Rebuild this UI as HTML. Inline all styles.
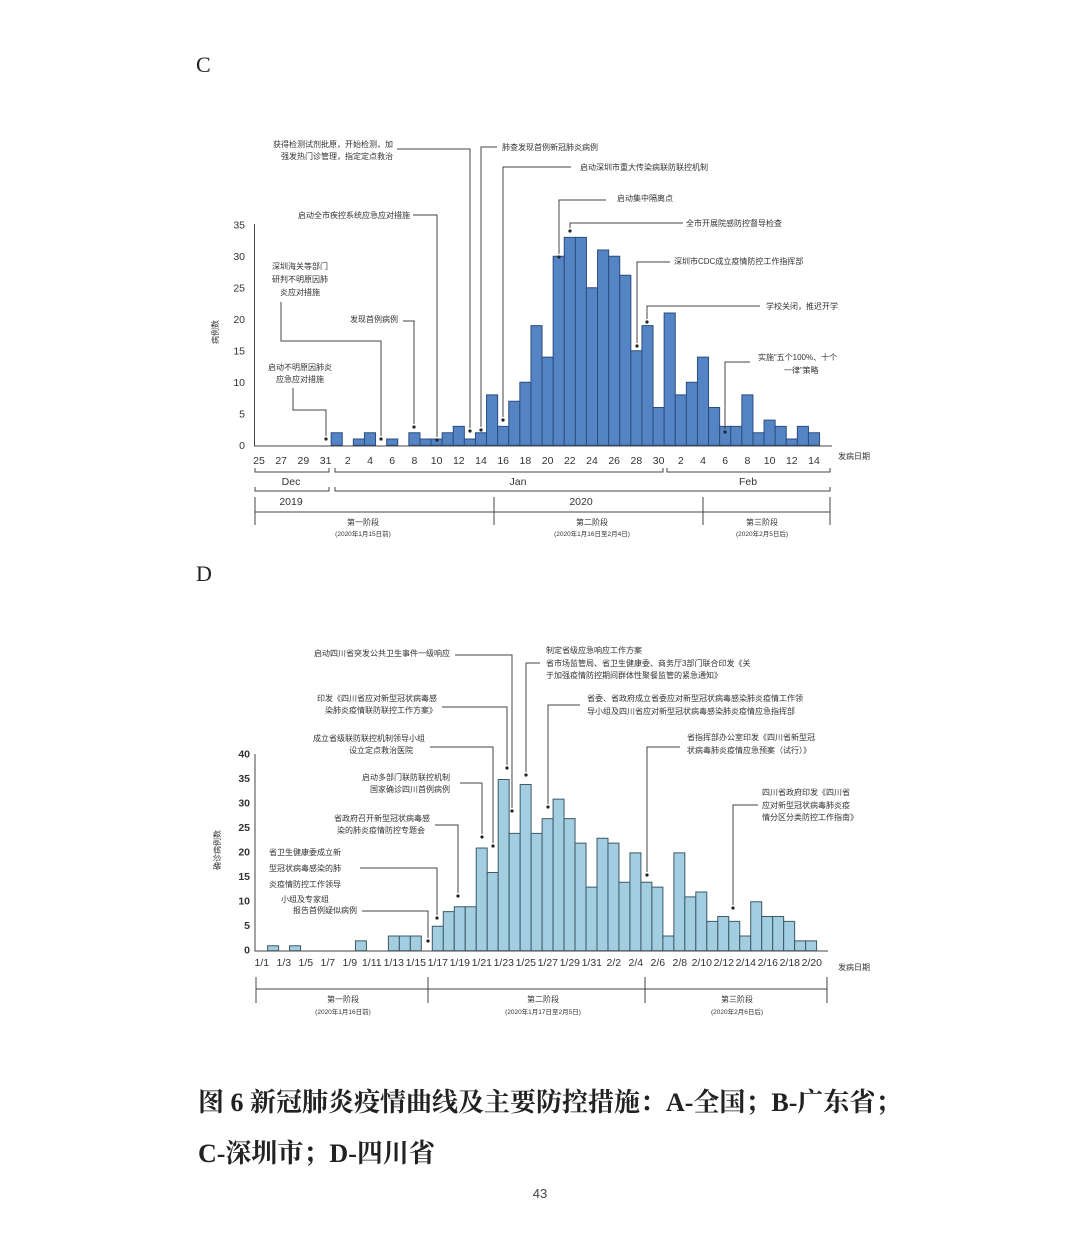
<!DOCTYPE html>
<html><head><meta charset="utf-8"><style>
html,body{margin:0;padding:0;background:#fff;}
svg{display:block;}
.a{font-family:"Liberation Sans","Noto Sans CJK SC",sans-serif;font-size:8px;fill:#333;}
.t{font-family:"Liberation Sans",sans-serif;font-size:10.5px;fill:#333;}
.ln{fill:none;stroke:#444;stroke-width:1;}
</style></head><body>
<svg width="1080" height="1239" viewBox="0 0 1080 1239" xmlns="http://www.w3.org/2000/svg">
<rect width="1080" height="1239" fill="#fff"/>
<text x="196" y="72" font-family="Liberation Serif,serif" font-size="22" fill="#222">C</text>
<text x="196" y="581" font-family="Liberation Serif,serif" font-size="22" fill="#222">D</text>

<!-- ===== Chart C ===== -->
<g transform="translate(253.45,445.3) scale(11.1,-6.3)" fill="#5584c4" stroke="#2b4d80">
<rect x="7" y="0" width="1" height="2" vector-effect="non-scaling-stroke"/>
<rect x="9" y="0" width="1" height="1" vector-effect="non-scaling-stroke"/>
<rect x="10" y="0" width="1" height="2" vector-effect="non-scaling-stroke"/>
<rect x="12" y="0" width="1" height="1" vector-effect="non-scaling-stroke"/>
<rect x="14" y="0" width="1" height="2" vector-effect="non-scaling-stroke"/>
<rect x="15" y="0" width="1" height="1" vector-effect="non-scaling-stroke"/>
<rect x="16" y="0" width="1" height="1" vector-effect="non-scaling-stroke"/>
<rect x="17" y="0" width="1" height="2" vector-effect="non-scaling-stroke"/>
<rect x="18" y="0" width="1" height="3" vector-effect="non-scaling-stroke"/>
<rect x="19" y="0" width="1" height="1" vector-effect="non-scaling-stroke"/>
<rect x="20" y="0" width="1" height="2" vector-effect="non-scaling-stroke"/>
<rect x="21" y="0" width="1" height="8" vector-effect="non-scaling-stroke"/>
<rect x="22" y="0" width="1" height="3" vector-effect="non-scaling-stroke"/>
<rect x="23" y="0" width="1" height="7" vector-effect="non-scaling-stroke"/>
<rect x="24" y="0" width="1" height="10" vector-effect="non-scaling-stroke"/>
<rect x="25" y="0" width="1" height="19" vector-effect="non-scaling-stroke"/>
<rect x="26" y="0" width="1" height="14" vector-effect="non-scaling-stroke"/>
<rect x="27" y="0" width="1" height="30" vector-effect="non-scaling-stroke"/>
<rect x="28" y="0" width="1" height="33" vector-effect="non-scaling-stroke"/>
<rect x="29" y="0" width="1" height="33" vector-effect="non-scaling-stroke"/>
<rect x="30" y="0" width="1" height="25" vector-effect="non-scaling-stroke"/>
<rect x="31" y="0" width="1" height="31" vector-effect="non-scaling-stroke"/>
<rect x="32" y="0" width="1" height="30" vector-effect="non-scaling-stroke"/>
<rect x="33" y="0" width="1" height="27" vector-effect="non-scaling-stroke"/>
<rect x="34" y="0" width="1" height="15" vector-effect="non-scaling-stroke"/>
<rect x="35" y="0" width="1" height="19" vector-effect="non-scaling-stroke"/>
<rect x="36" y="0" width="1" height="6" vector-effect="non-scaling-stroke"/>
<rect x="37" y="0" width="1" height="21" vector-effect="non-scaling-stroke"/>
<rect x="38" y="0" width="1" height="8" vector-effect="non-scaling-stroke"/>
<rect x="39" y="0" width="1" height="10" vector-effect="non-scaling-stroke"/>
<rect x="40" y="0" width="1" height="14" vector-effect="non-scaling-stroke"/>
<rect x="41" y="0" width="1" height="6" vector-effect="non-scaling-stroke"/>
<rect x="42" y="0" width="1" height="3" vector-effect="non-scaling-stroke"/>
<rect x="43" y="0" width="1" height="3" vector-effect="non-scaling-stroke"/>
<rect x="44" y="0" width="1" height="8" vector-effect="non-scaling-stroke"/>
<rect x="45" y="0" width="1" height="2" vector-effect="non-scaling-stroke"/>
<rect x="46" y="0" width="1" height="4" vector-effect="non-scaling-stroke"/>
<rect x="47" y="0" width="1" height="3" vector-effect="non-scaling-stroke"/>
<rect x="48" y="0" width="1" height="1" vector-effect="non-scaling-stroke"/>
<rect x="49" y="0" width="1" height="3" vector-effect="non-scaling-stroke"/>
<rect x="50" y="0" width="1" height="2" vector-effect="non-scaling-stroke"/>
</g>
<path class="ln" d="M254.5,224 V446 H832" stroke="#222" stroke-width="1.3"/>
<g class="t" text-anchor="end">
<text x="245" y="449">0</text><text x="245" y="417.5">5</text><text x="245" y="386">10</text><text x="245" y="354.5">15</text><text x="245" y="323">20</text><text x="245" y="291.5">25</text><text x="245" y="260">30</text><text x="245" y="228.5">35</text>
</g>
<text transform="translate(218,332) rotate(-90)" class="a" font-size="10" text-anchor="middle">病例数</text>
<g class="t" text-anchor="middle">
<text x="259" y="464">25</text><text x="281.2" y="464">27</text><text x="303.4" y="464">29</text><text x="325.6" y="464">31</text><text x="347.8" y="464">2</text><text x="370" y="464">4</text><text x="392.2" y="464">6</text><text x="414.4" y="464">8</text><text x="436.6" y="464">10</text><text x="458.8" y="464">12</text><text x="481" y="464">14</text><text x="503.2" y="464">16</text><text x="525.4" y="464">18</text><text x="547.6" y="464">20</text><text x="569.8" y="464">22</text><text x="592" y="464">24</text><text x="614.2" y="464">26</text><text x="636.4" y="464">28</text><text x="658.6" y="464">30</text><text x="680.8" y="464">2</text><text x="703" y="464">4</text><text x="725.2" y="464">6</text><text x="747.4" y="464">8</text><text x="769.6" y="464">10</text><text x="791.8" y="464">12</text><text x="814" y="464">14</text>
</g>
<text x="838" y="459" class="a" font-size="7">发病日期</text>
<g class="ln" stroke="#555">
<path d="M255,468 V472 H329 V468 M335,468 V472 H663 V468 M667,468 V472 H830 V468"/>
<path d="M255,487 V491 H329 V487 M335,487 V491 H830 V487"/>
<path d="M255,497 V525 M494,497 V525 M703,497 V525 M830,497 V525 M255,512 H830"/>
</g>
<g class="t" font-size="9" text-anchor="middle">
<text x="291" y="485">Dec</text><text x="518" y="485">Jan</text><text x="748" y="485">Feb</text>
<text x="291" y="505">2019</text><text x="581" y="505">2020</text>
</g>
<g class="a" text-anchor="middle" font-size="7.5">
<text x="363" y="525">第一阶段</text><text x="363" y="536" font-size="6.5">(2020年1月15日前)</text>
<text x="592" y="525">第二阶段</text><text x="592" y="536" font-size="6.5">(2020年1月16日至2月4日)</text>
<text x="762" y="525">第三阶段</text><text x="762" y="536" font-size="6.5">(2020年2月5日后)</text>
</g>
<g class="a">
<text x="393" y="147" text-anchor="end">获得检测试剂批原，开始检测，加</text>
<text x="393" y="159" text-anchor="end">强发热门诊管理，指定定点救治</text>
<text x="502" y="150">肺查发现首例新冠肺炎病例</text>
<text x="580" y="170">启动深圳市重大传染病联防联控机制</text>
<text x="617" y="201">启动集中隔离点</text>
<text x="686" y="226">全市开展院感防控督导检查</text>
<text x="410" y="218" text-anchor="end">启动全市疾控系统应急应对措施</text>
<text x="300" y="269" text-anchor="middle">深圳海关等部门</text>
<text x="300" y="282" text-anchor="middle">研判不明原因肺</text>
<text x="300" y="295" text-anchor="middle">炎应对措施</text>
<text x="398" y="322" text-anchor="end">发现首例病例</text>
<text x="300" y="370" text-anchor="middle">启动不明原因肺炎</text>
<text x="300" y="382" text-anchor="middle">应急应对措施</text>
<text x="674" y="264">深圳市CDC成立疫情防控工作指挥部</text>
<text x="766" y="309">学校关闭，推迟开学</text>
<text x="758" y="360">实施“五个100%、十个</text>
<text x="784" y="373">一律”策略</text>
</g>
<g class="ln">
<path d="M397,149 H470 V428"/>
<path d="M497,147 H481 V427"/>
<path d="M571,167 H503 V417"/>
<path d="M606,200 H559 V254"/>
<path d="M683,223 H570 V228"/>
<path d="M413,215 H437 V437"/>
<path d="M281,302 V341 H381 V436"/>
<path d="M403,321 H414 V424"/>
<path d="M293,388 V410 H326 V436"/>
<path d="M670,262 H637 V343"/>
<path d="M760,306 H647 V319"/>
<path d="M750,362 H725 V429"/>
</g>
<g fill="#222">
<circle cx="470" cy="431" r="1.6"/><circle cx="481" cy="430" r="1.6"/><circle cx="503" cy="420" r="1.6"/><circle cx="559" cy="257" r="1.6"/><circle cx="570" cy="231" r="1.6"/><circle cx="437" cy="440" r="1.6"/><circle cx="381" cy="439" r="1.6"/><circle cx="414" cy="427" r="1.6"/><circle cx="326" cy="439" r="1.6"/><circle cx="637" cy="346" r="1.6"/><circle cx="647" cy="322" r="1.6"/><circle cx="725" cy="432" r="1.6"/>
</g>

<!-- ===== Chart D ===== -->
<g transform="translate(267.6,950.7) scale(10.98,-4.89)" fill="#a3cde0" stroke="#3c5a68">
<rect x="0" y="0" width="1" height="1" vector-effect="non-scaling-stroke"/>
<rect x="2" y="0" width="1" height="1" vector-effect="non-scaling-stroke"/>
<rect x="8" y="0" width="1" height="2" vector-effect="non-scaling-stroke"/>
<rect x="11" y="0" width="1" height="3" vector-effect="non-scaling-stroke"/>
<rect x="12" y="0" width="1" height="3" vector-effect="non-scaling-stroke"/>
<rect x="13" y="0" width="1" height="3" vector-effect="non-scaling-stroke"/>
<rect x="15" y="0" width="1" height="5" vector-effect="non-scaling-stroke"/>
<rect x="16" y="0" width="1" height="8" vector-effect="non-scaling-stroke"/>
<rect x="17" y="0" width="1" height="9" vector-effect="non-scaling-stroke"/>
<rect x="18" y="0" width="1" height="9" vector-effect="non-scaling-stroke"/>
<rect x="19" y="0" width="1" height="21" vector-effect="non-scaling-stroke"/>
<rect x="20" y="0" width="1" height="16" vector-effect="non-scaling-stroke"/>
<rect x="21" y="0" width="1" height="35" vector-effect="non-scaling-stroke"/>
<rect x="22" y="0" width="1" height="24" vector-effect="non-scaling-stroke"/>
<rect x="23" y="0" width="1" height="34" vector-effect="non-scaling-stroke"/>
<rect x="24" y="0" width="1" height="24" vector-effect="non-scaling-stroke"/>
<rect x="25" y="0" width="1" height="27" vector-effect="non-scaling-stroke"/>
<rect x="26" y="0" width="1" height="31" vector-effect="non-scaling-stroke"/>
<rect x="27" y="0" width="1" height="27" vector-effect="non-scaling-stroke"/>
<rect x="28" y="0" width="1" height="22" vector-effect="non-scaling-stroke"/>
<rect x="29" y="0" width="1" height="13" vector-effect="non-scaling-stroke"/>
<rect x="30" y="0" width="1" height="23" vector-effect="non-scaling-stroke"/>
<rect x="31" y="0" width="1" height="22" vector-effect="non-scaling-stroke"/>
<rect x="32" y="0" width="1" height="14" vector-effect="non-scaling-stroke"/>
<rect x="33" y="0" width="1" height="20" vector-effect="non-scaling-stroke"/>
<rect x="34" y="0" width="1" height="14" vector-effect="non-scaling-stroke"/>
<rect x="35" y="0" width="1" height="13" vector-effect="non-scaling-stroke"/>
<rect x="36" y="0" width="1" height="3" vector-effect="non-scaling-stroke"/>
<rect x="37" y="0" width="1" height="20" vector-effect="non-scaling-stroke"/>
<rect x="38" y="0" width="1" height="11" vector-effect="non-scaling-stroke"/>
<rect x="39" y="0" width="1" height="12" vector-effect="non-scaling-stroke"/>
<rect x="40" y="0" width="1" height="6" vector-effect="non-scaling-stroke"/>
<rect x="41" y="0" width="1" height="7" vector-effect="non-scaling-stroke"/>
<rect x="42" y="0" width="1" height="6" vector-effect="non-scaling-stroke"/>
<rect x="43" y="0" width="1" height="3" vector-effect="non-scaling-stroke"/>
<rect x="44" y="0" width="1" height="10" vector-effect="non-scaling-stroke"/>
<rect x="45" y="0" width="1" height="7" vector-effect="non-scaling-stroke"/>
<rect x="46" y="0" width="1" height="7" vector-effect="non-scaling-stroke"/>
<rect x="47" y="0" width="1" height="6" vector-effect="non-scaling-stroke"/>
<rect x="48" y="0" width="1" height="2" vector-effect="non-scaling-stroke"/>
<rect x="49" y="0" width="1" height="2" vector-effect="non-scaling-stroke"/>
</g>
<path class="ln" d="M255,754 V951 H828" stroke="#333"/>
<g class="t" font-size="7.5" text-anchor="end" font-weight="bold">
<text x="250" y="953.5">0</text><text x="250" y="929">5</text><text x="250" y="904.5">10</text><text x="250" y="880">15</text><text x="250" y="855.5">20</text><text x="250" y="831">25</text><text x="250" y="806.5">30</text><text x="250" y="782">35</text><text x="250" y="757.5">40</text>
</g>
<text transform="translate(220,850) rotate(-90)" class="a" font-size="8" text-anchor="middle">确诊病例数</text>
<g class="t" font-size="7.5" text-anchor="middle">
<text x="261.8" y="966">1/1</text><text x="283.8" y="966">1/3</text><text x="305.8" y="966">1/5</text><text x="327.8" y="966">1/7</text><text x="349.8" y="966">1/9</text><text x="371.8" y="966">1/11</text><text x="393.8" y="966">1/13</text><text x="415.8" y="966">1/15</text><text x="437.8" y="966">1/17</text><text x="459.8" y="966">1/19</text><text x="481.8" y="966">1/21</text><text x="503.8" y="966">1/23</text><text x="525.8" y="966">1/25</text><text x="547.8" y="966">1/27</text><text x="569.8" y="966">1/29</text><text x="591.8" y="966">1/31</text><text x="613.8" y="966">2/2</text><text x="635.8" y="966">2/4</text><text x="657.8" y="966">2/6</text><text x="679.8" y="966">2/8</text><text x="701.8" y="966">2/10</text><text x="723.8" y="966">2/12</text><text x="745.8" y="966">2/14</text><text x="767.8" y="966">2/16</text><text x="789.8" y="966">2/18</text><text x="811.8" y="966">2/20</text>
</g>
<text x="838" y="970" class="a" font-size="7">发病日期</text>
<path class="ln" stroke="#555" d="M256,977 V1003 M428,977 V1003 M645,977 V1003 M827,977 V1003 M256,989 H827"/>
<g class="a" text-anchor="middle" font-size="7.5">
<text x="343" y="1002">第一阶段</text><text x="343" y="1014" font-size="6.5">(2020年1月16日前)</text>
<text x="543" y="1002">第二阶段</text><text x="543" y="1014" font-size="6.5">(2020年1月17日至2月5日)</text>
<text x="737" y="1002">第三阶段</text><text x="737" y="1014" font-size="6.5">(2020年2月6日后)</text>
</g>
<g class="a" font-size="7.5">
<text x="450" y="656" text-anchor="end">启动四川省突发公共卫生事件一级响应</text>
<text x="546" y="653">制定省级应急响应工作方案</text>
<text x="546" y="666">省市场监管局、省卫生健康委、商务厅3部门联合印发《关</text>
<text x="546" y="678">于加强疫情防控期间群体性聚餐监管的紧急通知》</text>
<text x="437" y="701" text-anchor="end">印发《四川省应对新型冠状病毒感</text>
<text x="437" y="713" text-anchor="end">染肺炎疫情联防联控工作方案》</text>
<text x="587" y="701">省委、省政府成立省委应对新型冠状病毒感染肺炎疫情工作领</text>
<text x="587" y="714">导小组及四川省应对新型冠状病毒感染肺炎疫情应急指挥部</text>
<text x="425" y="741" text-anchor="end">成立省级联防联控机制领导小组</text>
<text x="413" y="753" text-anchor="end">设立定点救治医院</text>
<text x="687" y="740">省指挥部办公室印发《四川省新型冠</text>
<text x="687" y="753">状病毒肺炎疫情应急预案（试行）》</text>
<text x="450" y="780" text-anchor="end">启动多部门联防联控机制</text>
<text x="450" y="792" text-anchor="end">国家确诊四川首例病例</text>
<text x="762" y="795">四川省政府印发《四川省</text>
<text x="762" y="808">应对新型冠状病毒肺炎疫</text>
<text x="762" y="820">情分区分类防控工作指南》</text>
<text x="430" y="821" text-anchor="end">省政府召开新型冠状病毒感</text>
<text x="425" y="833" text-anchor="end">染的肺炎疫情防控专题会</text>
<text x="305" y="855" text-anchor="middle">省卫生健康委成立新</text>
<text x="305" y="871" text-anchor="middle">型冠状病毒感染的肺</text>
<text x="305" y="887" text-anchor="middle">炎疫情防控工作领导</text>
<text x="305" y="902" text-anchor="middle">小组及专家组</text>
<text x="357" y="913" text-anchor="end">报告首例疑似病例</text>
</g>
<g class="ln">
<path d="M455,655 H512 V808"/>
<path d="M540,663 H526 V772"/>
<path d="M442,707 H507 V765"/>
<path d="M580,705 H548 V804"/>
<path d="M430,747 H493 V843"/>
<path d="M680,747 H647 V872"/>
<path d="M460,783 H482 V834"/>
<path d="M758,805 H733 V905"/>
<path d="M435,825 H458 V893"/>
<path d="M360,868 H437 V915"/>
<path d="M362,911 H428 V938"/>
</g>
<g fill="#222">
<circle cx="512" cy="811" r="1.6"/><circle cx="526" cy="775" r="1.6"/><circle cx="507" cy="768" r="1.6"/><circle cx="548" cy="807" r="1.6"/><circle cx="493" cy="846" r="1.6"/><circle cx="647" cy="875" r="1.6"/><circle cx="482" cy="837" r="1.6"/><circle cx="733" cy="908" r="1.6"/><circle cx="458" cy="896" r="1.6"/><circle cx="437" cy="918" r="1.6"/><circle cx="428" cy="941" r="1.6"/>
</g>

<g font-family="Liberation Serif,'Noto Serif CJK SC',serif" font-weight="bold" font-size="26" fill="#222">
<text x="198" y="1111">图 6 新冠肺炎疫情曲线及主要防控措施：A-全国；B-广东省；</text>
<text x="198" y="1162">C-深圳市；D-四川省</text>
</g>
<text x="540" y="1198" text-anchor="middle" font-family="Liberation Sans,sans-serif" font-size="13" fill="#444">43</text>
</svg>
</body></html>
